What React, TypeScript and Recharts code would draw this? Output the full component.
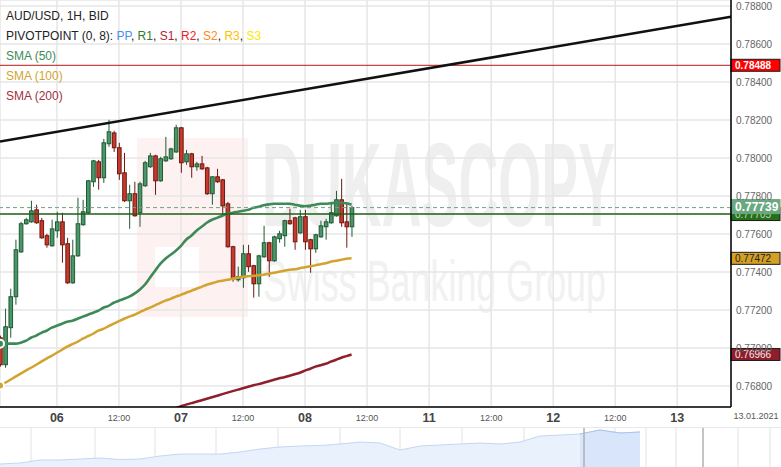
import React from "react";
import {
  ComposedChart,
  AreaChart,
  Area,
  Bar,
  Line,
  XAxis,
  YAxis,
  CartesianGrid,
  ReferenceLine,
} from "recharts";

// AUD/USD 1H candles, 05.01 13:00 -> 08.01 09:00 (x = trading hour index)
const opens = [
  0.77054, 0.76912, 0.77107, 0.7727, 0.77506, 0.77654, 0.77664, 0.77727, 0.7767, 0.77591,
  0.77538, 0.77617, 0.77664, 0.77549, 0.77343, 0.77485, 0.77649, 0.77712, 0.77875, 0.7798,
  0.77896, 0.78075, 0.78132, 0.78054, 0.77922, 0.77775, 0.77812, 0.77712, 0.77854, 0.77954,
  0.78011, 0.7788, 0.77985, 0.77996, 0.78032, 0.78159, 0.7798, 0.78022, 0.77954, 0.77969,
  0.77948, 0.77812, 0.77901, 0.77885, 0.77759, 0.77533, 0.77359, 0.7737, 0.77496, 0.77433,
  0.77338, 0.7748, 0.77554, 0.77459, 0.77575, 0.77591, 0.7767, 0.77685, 0.77606, 0.77691,
  0.7757, 0.77522, 0.77585, 0.77638, 0.77659, 0.77696, 0.7778, 0.77664, 0.77638,
];
const highs = [
  0.77065, 0.77207, 0.77312, 0.7757, 0.77664, 0.77685, 0.77775, 0.77754, 0.77685, 0.77601,
  0.77675, 0.77717, 0.77712, 0.7758, 0.7757, 0.77791, 0.7778, 0.77885, 0.7799, 0.7799,
  0.78101, 0.78201, 0.78143, 0.7808, 0.78027, 0.77859, 0.77875, 0.77875, 0.77985, 0.78027,
  0.78017, 0.78006, 0.78111, 0.78054, 0.78175, 0.78164, 0.78043, 0.78027, 0.7798, 0.78011,
  0.77954, 0.77903, 0.77943, 0.7789, 0.77769, 0.77538, 0.77428, 0.77543, 0.77543, 0.77438,
  0.77491, 0.77643, 0.77559, 0.77591, 0.77617, 0.77675, 0.77733, 0.77691, 0.77727, 0.77727,
  0.77575, 0.77601, 0.7767, 0.7768, 0.77764, 0.77827, 0.7789, 0.77764, 0.77748,
];
const lows = [
  0.76902, 0.76896, 0.77054, 0.77228, 0.77501, 0.77649, 0.77659, 0.77654, 0.77575, 0.77528,
  0.77533, 0.7758, 0.77449, 0.77338, 0.77338, 0.7748, 0.77643, 0.77706, 0.77848, 0.77833,
  0.77869, 0.78059, 0.78032, 0.77885, 0.77769, 0.77627, 0.77691, 0.77638, 0.77848, 0.77948,
  0.77806, 0.77875, 0.7798, 0.7799, 0.78027, 0.77922, 0.77964, 0.77896, 0.77933, 0.77938,
  0.77806, 0.77754, 0.77869, 0.77701, 0.77528, 0.77349, 0.77349, 0.77317, 0.77401, 0.77265,
  0.7727, 0.77475, 0.77375, 0.77454, 0.77554, 0.77533, 0.77649, 0.77517, 0.77601, 0.77517,
  0.77396, 0.77501, 0.7758, 0.7757, 0.77654, 0.77691, 0.77638, 0.77528, 0.77585,
];
const closes = [
  0.76912, 0.77112, 0.7727, 0.77517, 0.77654, 0.77675, 0.77722, 0.77659, 0.7758, 0.77543,
  0.77627, 0.77664, 0.77543, 0.77343, 0.77485, 0.77654, 0.77717, 0.7788, 0.77985, 0.77896,
  0.7808, 0.78138, 0.78054, 0.77917, 0.77775, 0.77812, 0.77696, 0.77864, 0.77975, 0.78011,
  0.7788, 0.77996, 0.78006, 0.78048, 0.78159, 0.77975, 0.78022, 0.77954, 0.77969, 0.77943,
  0.77812, 0.77901, 0.77875, 0.77748, 0.77533, 0.77364, 0.77375, 0.77496, 0.77428, 0.77338,
  0.77485, 0.77554, 0.77459, 0.77585, 0.77601, 0.7767, 0.77654, 0.77559, 0.77691, 0.77559,
  0.77522, 0.77596, 0.77643, 0.77664, 0.77712, 0.7778, 0.77659, 0.77638, 0.77739,
];

const sma50 = [
  0.77023, 0.77023, 0.77023, 0.77023, 0.77028, 0.77038, 0.77054, 0.77065, 0.7708, 0.77091,
  0.77107, 0.77117, 0.77128, 0.77138, 0.77144, 0.77154, 0.77165, 0.77175, 0.77186, 0.77196,
  0.77212, 0.77222, 0.77238, 0.77249, 0.77259, 0.7727, 0.77286, 0.77307, 0.77333, 0.7737,
  0.77407, 0.77443, 0.7747, 0.77491, 0.77512, 0.77538, 0.7757, 0.77591, 0.77617, 0.77638,
  0.77659, 0.77675, 0.77685, 0.77696, 0.77706, 0.77712, 0.77717, 0.77722, 0.77727, 0.77738,
  0.77743, 0.77751, 0.77756, 0.77759, 0.77759, 0.77759, 0.77759, 0.77754, 0.77749, 0.77746,
  0.77749, 0.77754, 0.77759, 0.77759, 0.77762, 0.77764, 0.77764, 0.77762, 0.77754,
];
const sma100 = [
  0.76802, 0.76817, 0.76833, 0.76849, 0.76865, 0.76881, 0.76896, 0.76912, 0.76928, 0.76944,
  0.76959, 0.76975, 0.76991, 0.77007, 0.7702, 0.77033, 0.77049, 0.77062, 0.77075, 0.77091,
  0.77101, 0.77115, 0.77128, 0.77141, 0.77154, 0.77165, 0.77175, 0.77188, 0.77201, 0.77212,
  0.77225, 0.77238, 0.77249, 0.77259, 0.7727, 0.7728, 0.77291, 0.77301, 0.77312, 0.77322,
  0.77333, 0.77341, 0.77349, 0.77354, 0.77359, 0.77364, 0.7737, 0.77375, 0.77378, 0.7738,
  0.77383, 0.77386, 0.77391, 0.77396, 0.77401, 0.77407, 0.77412, 0.77414, 0.7742, 0.77425,
  0.7743, 0.77435, 0.77441, 0.77446, 0.77454, 0.77459, 0.77464, 0.7747, 0.77472,
];
const sma200 = [
  null, null, null, null, null, null, null, null, null, null,
  null, null, null, null, null, null, null, null, null, null,
  null, null, null, null, null, null, null, null, null, null,
  null, null, 0.76668, 0.76675, 0.76683, 0.76694, 0.76702, 0.7671, 0.76717, 0.76725,
  0.76733, 0.76741, 0.76749, 0.76757, 0.76765, 0.76773, 0.76781, 0.76788, 0.76796, 0.76804,
  0.7681, 0.76817, 0.76825, 0.76833, 0.76841, 0.76846, 0.76854, 0.76862, 0.7687, 0.76881,
  0.76891, 0.76902, 0.76909, 0.76917, 0.76928, 0.76938, 0.76949, 0.76957, 0.76966,
];

const priceTicks = [0.768, 0.77, 0.772, 0.774, 0.776, 0.778, 0.78, 0.782, 0.784, 0.786, 0.788];
const timeTicks = [11, 23, 35, 47, 59, 71, 83, 95, 107, 119, 131];
const timeLabels = ["06", "12:00", "07", "12:00", "08", "12:00", "11", "12:00", "12", "12:00", "13"];

const trendStart = 0.78087;
const trendEnd = 0.78744;
const resistance = 0.78488;
const lastPrice = 0.77739;
const pivotLevel = 0.77705;

// navigator (longer history overview)
const navValues = [
  0.7078, 0.71, 0.7166, 0.7166, 0.7188, 0.721, 0.7177, 0.7188, 0.7254, 0.7298,
  0.7298, 0.7298, 0.7342, 0.7408, 0.7452, 0.7474, 0.7485, 0.7518, 0.7562, 0.754,
  0.7386, 0.7474, 0.7496, 0.7518, 0.754, 0.7518, 0.7562, 0.7694, 0.7716, 0.7738,
  0.7826, 0.776, 0.7782,
];
const navSelStart = 29;

const data = opens.map((o, i) => ({
  t: i,
  open: o,
  high: highs[i],
  low: lows[i],
  close: closes[i],
  sma50: sma50[i],
  sma100: sma100[i],
  sma200: sma200[i],
}));

const navData = navValues.map((v, i) => ({
  i,
  v,
  sel: i >= navSelStart ? v : null,
}));

const Candle = (props: any) => {
  const { x, y, width, height, payload } = props;
  if (!payload || !height) return null;
  const { open, close, high, low } = payload;
  const k = height / (high - low);
  const yOf = (v: number) => y + (high - v) * k;
  const cx = x + width / 2;
  const up = close >= open;
  const top = yOf(Math.max(open, close));
  const bot = yOf(Math.min(open, close));
  const dark = up ? "#1f5a33" : "#6b1810";
  return (
    <g>
      <line x1={cx} x2={cx} y1={y} y2={y + height} stroke={dark} strokeWidth={1} />
      <rect
        x={cx - 1.8}
        y={top}
        width={3.6}
        height={Math.max(bot - top, 1)}
        fill={up ? "#4a9669" : "#c8392c"}
        stroke={dark}
        strokeWidth={1}
      />
    </g>
  );
};

const TimeTick = (props: any) => {
  const { x, y, payload } = props;
  const label = timeLabels[timeTicks.indexOf(payload.value)];
  const day = label !== "12:00";
  return (
    <text
      x={x}
      y={y}
      dy={day ? 14.5 : 13.5}
      textAnchor="middle"
      fontSize={day ? 12.5 : 9}
      fontWeight={day ? 700 : 400}
      fill={day ? "#444" : "#555"}
    >
      {label}
    </text>
  );
};

const priceTag =
  (text: string, fill: string, color: string, bold: boolean, size: number, h: number, shift = 0, border = "#1a1a1a") =>
  (props: any) => {
    const vb = props.viewBox || {};
    const left = (vb.x || 0) + (vb.width || 0);
    const cy = (vb.y || 0) + shift;
    return (
      <g>
        <rect x={left} y={cy - h / 2} width={49} height={h} fill={fill} stroke={border} strokeWidth={1} />
        <text x={left + 4} y={cy} dy="0.36em" fontSize={size} fontWeight={bold ? 700 : 400} fill={color}>
          {text}
        </text>
      </g>
    );
  };

const legendRow = { position: "absolute" as const, left: 6, fontSize: 12, lineHeight: "14px", whiteSpace: "nowrap" as const };

export default function App() {
  return (
    <div
      style={{
        position: "absolute",
        left: 0,
        top: 0,
        width: 781,
        height: 467,
        background: "#fff",
        overflow: "hidden",
        fontFamily: "Arial, 'Liberation Sans', sans-serif",
      }}
    >
      {/* watermark */}
      <svg width={781} height={428} style={{ position: "absolute", left: 0, top: 0 }}>
        <rect x={137} y={138} width={111} height={179} fill="#fdf1f1" />
        <rect x={155} y={247} width={44} height={40} fill="#ffffff" />
        <text x={262} y={226} fontSize={118} fontWeight={700} fill="#efefef" textLength={353} lengthAdjust="spacingAndGlyphs">
          DUKASCOPY
        </text>
        <text x={263} y={301} fontSize={58} fill="#f1f1f1" textLength={343} lengthAdjust="spacingAndGlyphs">
          Swiss Banking Group
        </text>
      </svg>

      <div style={{ position: "absolute", left: 0, top: 0 }}>
        <ComposedChart width={781} height={428} data={data} margin={{ top: 0, right: 0, bottom: 0, left: 0 }}>
          <CartesianGrid stroke="#e6e6e6" strokeWidth={1.5} />
          <XAxis
            type="number"
            dataKey="t"
            domain={[0, 141.39]}
            allowDataOverflow
            ticks={timeTicks}
            interval={0}
            tick={<TimeTick />}
            tickLine={false}
            tickSize={0}
            tickMargin={0}
            height={21}
            axisLine={{ stroke: "#000", strokeWidth: 1.5 }}
          />
          <YAxis
            orientation="right"
            type="number"
            domain={[0.766895, 0.788316]}
            allowDataOverflow
            ticks={priceTicks}
            interval={0}
            tickFormatter={(v: number) => v.toFixed(5)}
            tick={{ fontSize: 10, fill: "#666" }}
            tickLine={false}
            tickSize={3}
            tickMargin={2}
            width={50}
            axisLine={{ stroke: "#000", strokeWidth: 1.5 }}
          />
          <ReferenceLine
            y={resistance}
            stroke="#b81414"
            strokeWidth={1}
            label={priceTag("0.78488", "#ff0000", "#fff", true, 10, 12)}
          />
          <ReferenceLine
            segment={[
              { x: 0, y: trendStart },
              { x: 141.39, y: trendEnd },
            ]}
            stroke="#111"
            strokeWidth={2.5}
          />
          <Line dataKey="sma200" stroke="#8e1f2b" strokeWidth={2.5} dot={false} type="monotone" isAnimationActive={false} />
          <Line dataKey="sma100" stroke="#d2a42f" strokeWidth={2.5} dot={false} type="monotone" isAnimationActive={false} />
          <Line dataKey="sma50" stroke="#3d8a58" strokeWidth={2.6} dot={false} type="monotone" isAnimationActive={false} />
          <ReferenceLine
            y={pivotLevel}
            stroke="#1d5e12"
            strokeWidth={1.5}
            label={priceTag("0.77705", "#25701a", "#c8d8c4", false, 10, 13, 0)}
          />
          <ReferenceLine
            y={lastPrice}
            stroke="#6fa383"
            strokeDasharray="4 3"
            strokeWidth={1}
            label={priceTag("0.77739", "#6aa880", "#fff", true, 12, 14, -1, "#6aa880")}
          />
          <ReferenceLine
            y={sma100[sma100.length - 1]}
            strokeOpacity={0}
            label={priceTag("0.77472", "#d4a024", "#222", false, 10, 12)}
          />
          <ReferenceLine
            y={sma200[sma200.length - 1] as number}
            strokeOpacity={0}
            label={priceTag("0.76966", "#8f1d2c", "#eee", false, 10, 12)}
          />
          <Bar
            dataKey={(d: any) => [d.low, d.high]}
            barSize={4}
            shape={<Candle />}
            isAnimationActive={false}
          />
        </ComposedChart>
      </div>

      <div style={{ position: "absolute", left: 731, top: 411, width: 50, textAlign: "center", fontSize: 9, color: "#555" }}>
        13.01.2021
      </div>

      {/* legend */}
      <div style={{ ...legendRow, top: 9, color: "#222" }}>AUD/USD, 1H, BID</div>
      <div style={{ ...legendRow, top: 29, color: "#222" }}>
        PIVOTPOINT (0, 8): <span style={{ color: "#4a8ff0" }}>PP</span>, <span style={{ color: "#2f7a2f" }}>R1</span>,{" "}
        <span style={{ color: "#b32032" }}>S1</span>, <span style={{ color: "#f01e1e" }}>R2</span>,{" "}
        <span style={{ color: "#ff8a1a" }}>S2</span>, <span style={{ color: "#ffbf00" }}>R3</span>,{" "}
        <span style={{ color: "#ffe800" }}>S3</span>
      </div>
      <div style={{ ...legendRow, top: 49, color: "#3d8a58" }}>SMA (50)</div>
      <div style={{ ...legendRow, top: 69, color: "#d2a42f" }}>SMA (100)</div>
      <div style={{ ...legendRow, top: 89, color: "#a03040" }}>SMA (200)</div>

      {/* navigator */}
      <div style={{ position: "absolute", left: 0, top: 427, width: 781, height: 40, borderTop: "1px solid #e8e8e8" }}>
        <AreaChart width={781} height={40} data={navData} margin={{ top: 0, right: 0, bottom: 0, left: 0 }}>
          <XAxis type="number" dataKey="i" domain={[0, 39.05]} hide />
          <YAxis type="number" domain={[0.699, 0.787]} hide />
          <CartesianGrid
            horizontal={false}
            verticalPoints={[31, 95, 155, 216, 278, 340, 400, 462, 524, 615, 646, 676, 738, 770]}
            stroke="#e2e2e2"
          />
          <Area dataKey="v" type="linear" stroke="#c2d7f5" fill="#e9f1fc" fillOpacity={1} isAnimationActive={false} />
          <Area dataKey="sel" type="linear" stroke="#a9c4ee" fill="#d8e5fa" fillOpacity={1} isAnimationActive={false} />
          <ReferenceLine x={29.2} stroke="#b0b0b0" strokeWidth={1.5} />
          <ReferenceLine x={35.15} stroke="#c4c4c4" strokeWidth={2} />
        </AreaChart>
      </div>
    </div>
  );
}
